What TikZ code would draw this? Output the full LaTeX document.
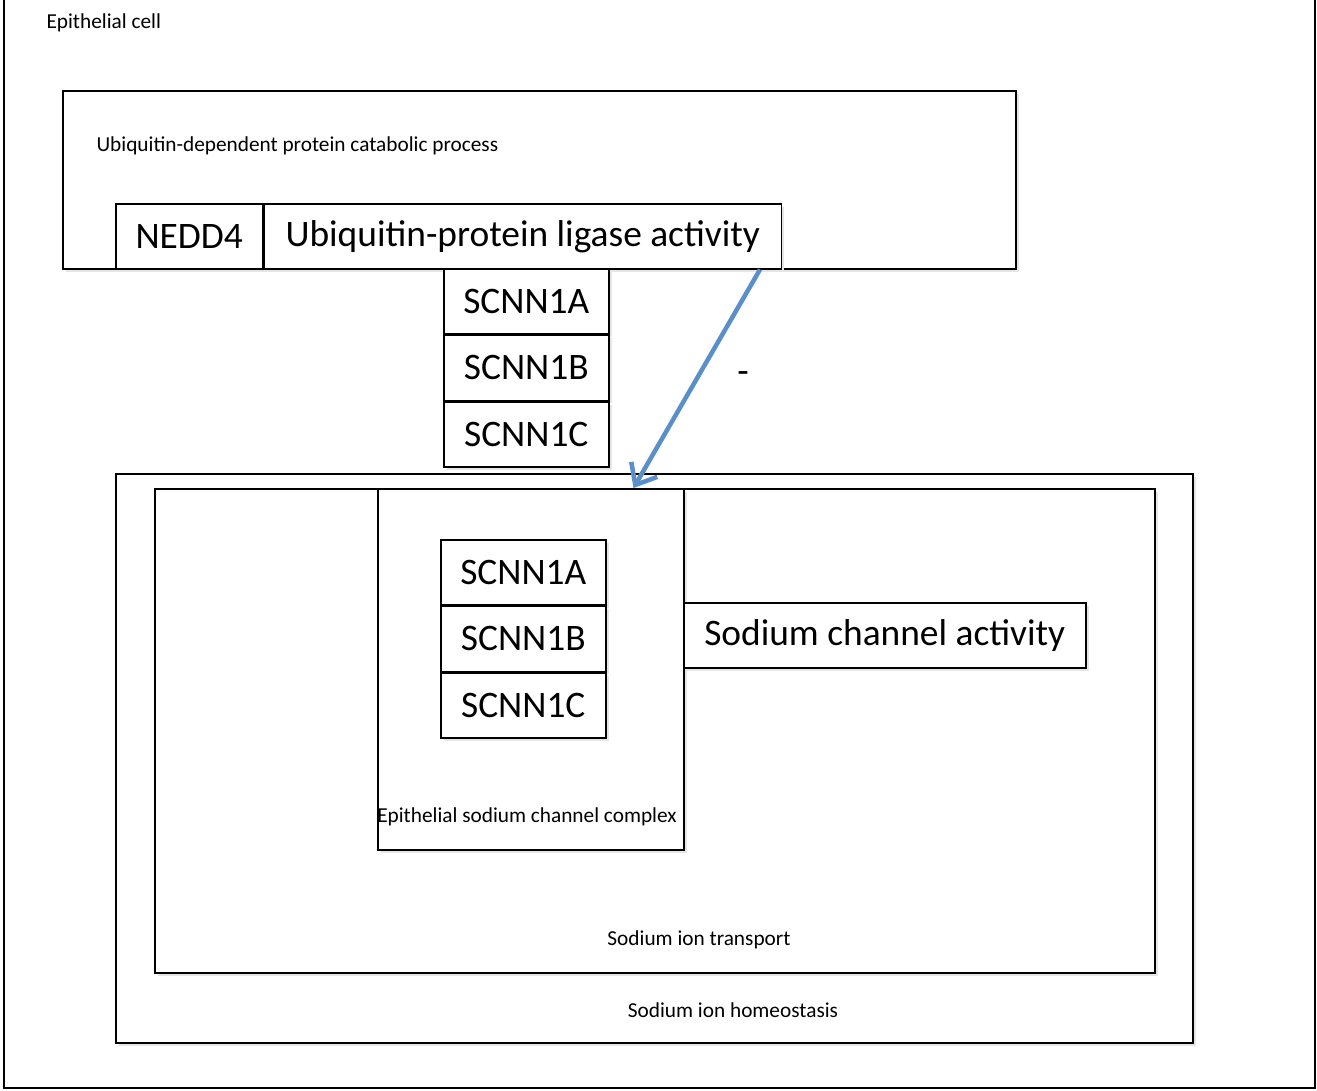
\documentclass[tikz,border=0pt]{standalone}
\usepackage{fontspec}
\setmainfont{Carlito}
\usetikzlibrary{positioning,arrows.meta,shadows}
\definecolor{arrowblue}{RGB}{91,143,201}

\begin{document}
\begin{tikzpicture}[x=1pt, y=-1pt]

        % Box and text styles, sizes are in pixels of the figure
        \tikzset{
            box/.style={draw, line width=1.5pt, fill=white, inner sep=0pt,
                drop shadow={shadow xshift=3pt, shadow yshift=-3pt,
                fill=black!10, opacity=1}},
            gene/.style={box, minimum width=165pt, minimum height=65pt,
                font=\fontsize{37.4}{44}\selectfont},
            big/.style={font=\fontsize{37.4}{44}\selectfont},
            small/.style={font=\fontsize{21.3}{25}\selectfont},
            inhib/.style={draw=arrowblue, line width=4.5pt,
                -{Straight Barb[length=18pt, width=30pt, line width=4.5pt]}},
        }

        \useasboundingbox (0,0) rectangle (1317,1090);

        % Epithelial cell
        \draw[line width=1.5pt] (4,-10) rectangle (1315,1088);
        \node[small, anchor=west] (cell) at (43,23) {Epithelial cell};

        % Ubiquitin-dependent protein catabolic process
        \node[box, anchor=north west, minimum width=953pt,
            minimum height=178pt] (ubproc) at (62,90) {};
        \node[small, anchor=west] (ubproclab) at (93,146)
            {Ubiquitin-dependent protein catabolic process};
        \node[box, big, anchor=north west, minimum width=147pt,
            minimum height=65pt] (nedd) at (115,203) {NEDD4};
        \node[box, big, right=0pt of nedd, minimum width=517pt,
            minimum height=65pt] (lig) {Ubiquitin-protein ligase activity};

        % Free channel subunits
        \node[gene, anchor=north west] (sa1) at (443,268) {SCNN1A};
        \node[gene, below=0pt of sa1] (sb1) {SCNN1B};
        \node[gene, below=0pt of sb1] (sc1) {SCNN1C};

        % Sodium ion homeostasis and transport
        \node[box, anchor=north west, minimum width=1077pt,
            minimum height=569pt] (homeo) at (115,473) {};
        \node[small] (homeolab) at (733,1010) {Sodium ion homeostasis};
        \node[box, anchor=north west, minimum width=1000pt,
            minimum height=484pt] (trans) at (154,488) {};
        \node[small] (translab) at (699,940) {Sodium ion transport};

        % Epithelial sodium channel complex
        \node[box, anchor=north west, minimum width=306pt,
            minimum height=361pt] (cplx) at (377,488) {};
        \node[small] (cplxlab) at (527,817) {Epithelial sodium channel complex};
        \node[gene, anchor=north west] (sa2) at (440,539) {SCNN1A};
        \node[gene, below=0pt of sa2] (sb2) {SCNN1B};
        \node[gene, below=0pt of sb2] (sc2) {SCNN1C};
        \node[box, big, anchor=west, minimum width=402pt,
            minimum height=65pt] (act) at (683,635.5) {Sodium channel activity};

        % Ligase acts on the complex
        \draw[inhib] ([xshift=-22pt]lig.south east) -- ([xshift=-51pt]cplx.north east);
        \node[big] (minus) at (743,378) {-};
        \end{tikzpicture}
\end{document}
